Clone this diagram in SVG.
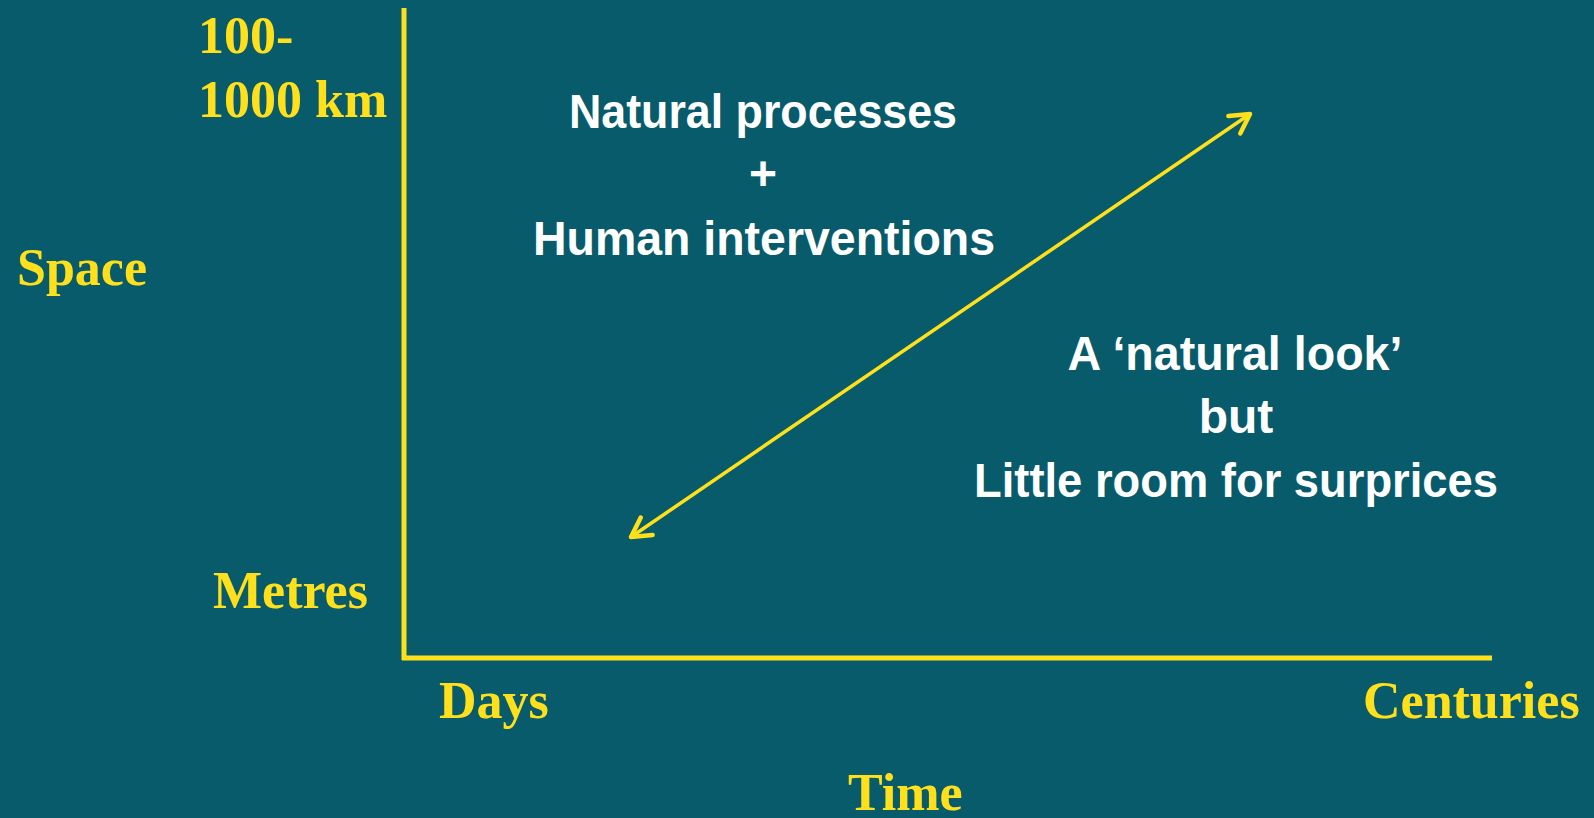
<svg xmlns="http://www.w3.org/2000/svg" width="1594" height="818" viewBox="0 0 1594 818">
<style>
.ax{stroke:#FFE01B;stroke-width:5;fill:none}
.yl{font-family:"Liberation Serif","Times New Roman",serif;font-weight:bold;font-size:52px;fill:#FFE01B}
.wt{font-family:"Liberation Sans",Arial,sans-serif;font-weight:bold;font-size:48px;fill:#FFFFFF;text-anchor:middle}
</style>
<defs>
<marker id="head" viewBox="0 0 30 30" refX="27" refY="15" markerWidth="30" markerHeight="30" markerUnits="userSpaceOnUse" orient="auto-start-reverse">
<path d="M8,4.5 L27,15 L8,25.5" fill="none" stroke="#FFE01B" stroke-width="4.5" stroke-linecap="round" stroke-linejoin="round"/>
</marker>
</defs>
<rect width="1594" height="818" fill="#075B6B"/>
<g id="connectors">
<line class="ax" x1="404" y1="8" x2="404" y2="660"/>
<line class="ax" x1="402" y1="658" x2="1492" y2="658"/>
<line x1="631" y1="537" x2="1250" y2="114" stroke="#FFE01B" stroke-width="3.5" marker-start="url(#head)" marker-end="url(#head)"/>
</g>
<g id="label-100"><text class="yl" x="198" y="53">100-</text><text class="yl" x="198" y="117">1000 km</text></g>
<g id="label-space"><text class="yl" x="17" y="285">Space</text></g>
<g id="label-metres"><text class="yl" x="213" y="608">Metres</text></g>
<g id="label-days"><text class="yl" x="439" y="718">Days</text></g>
<g id="label-centuries"><text class="yl" x="1363" y="718">Centuries</text></g>
<g id="label-time"><text class="yl" x="848" y="810">Time</text></g>
<g id="text-natural">
<text class="wt" x="763" y="128" textLength="388" lengthAdjust="spacingAndGlyphs">Natural processes</text>
<text class="wt" x="763" y="190">+</text>
<text class="wt" x="764" y="255" textLength="462" lengthAdjust="spacingAndGlyphs">Human interventions</text>
</g>
<g id="text-look">
<text class="wt" x="1235" y="370" textLength="335" lengthAdjust="spacingAndGlyphs">A ‘natural look’</text>
<text class="wt" x="1236" y="433">but</text>
<text class="wt" x="1236" y="497" textLength="524" lengthAdjust="spacingAndGlyphs">Little room for surprices</text>
</g>
</svg>
